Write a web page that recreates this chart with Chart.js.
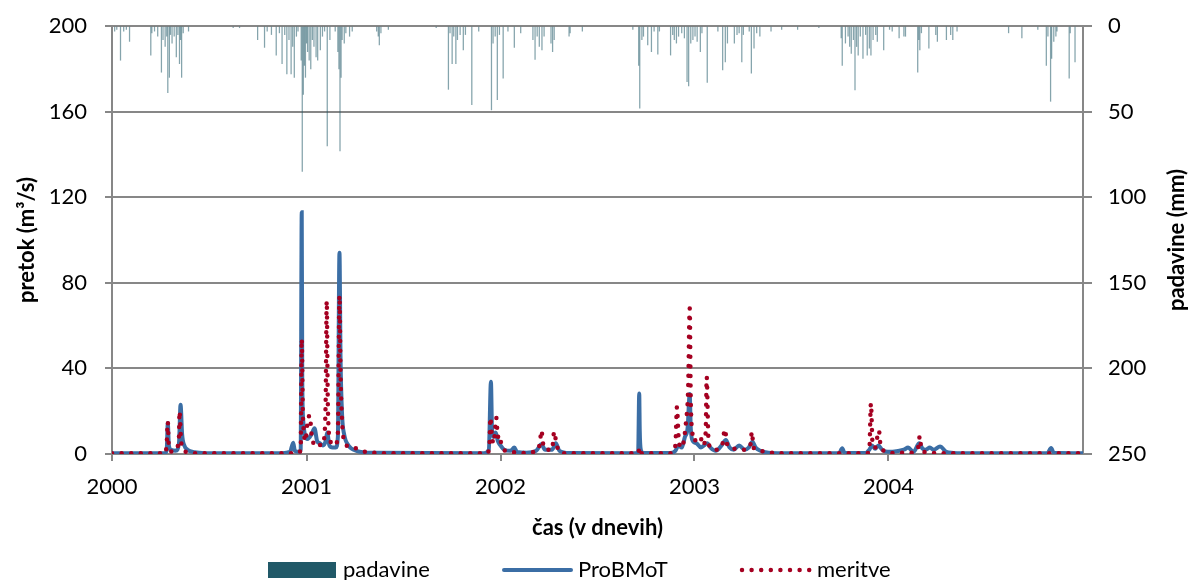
<!DOCTYPE html>
<html>
<head>
<meta charset="utf-8">
<script src="https://cdn.jsdelivr.net/npm/chart.js@4.4.1/dist/chart.umd.min.js"></script>
<style>
  html, body { margin: 0; padding: 0; background: #fff; }
  #wrap { width: 1189px; height: 580px; }
</style>
</head>
<body>
<div id="wrap"><canvas id="chart" width="1189" height="580"></canvas></div>
<script>
// x axis: days counted from 1 Jan 2000, one labelled tick per year
const yearTicks = [0, 366, 731, 1096, 1461];
const yearLabels = ['2000', '2001', '2002', '2003', '2004'];

// daily precipitation (mm), only the rainy days
const rainDay = [
  5, 9, 16, 22, 27, 33, 73, 75, 80, 86, 93, 96, 100, 103, 105, 108, 110, 113, 117, 121, 124, 127, 129, 131, 134, 144,
  228, 240, 274, 287, 292, 300, 309, 315, 320, 325, 329, 333, 337, 340, 343, 347, 350,
  356, 358, 360, 362, 364, 366, 368, 371, 374, 377, 380, 384, 387, 392, 396, 400, 405,
  410, 420, 425, 427, 429, 431, 433, 437, 440, 447, 452, 498, 501, 503, 506, 520, 610,
  633, 636, 640, 643, 647, 650, 655, 661, 665, 677, 690, 714, 717, 721, 725, 729,
  736, 745, 757, 769, 792, 796, 800, 804, 809, 813, 826, 829, 832, 860, 862, 885,
  980, 991, 993, 997, 1000, 1008, 1015, 1020, 1027, 1030, 1051, 1055, 1058, 1062,
  1066, 1072, 1077, 1082, 1085, 1089, 1093, 1097, 1101, 1107, 1110, 1120, 1140, 1149,
  1154, 1158, 1171, 1176, 1180, 1185, 1188, 1199, 1203, 1208, 1213, 1219, 1240, 1260,
  1290, 1330, 1372, 1374, 1380, 1385, 1388, 1391, 1395, 1398, 1401, 1404, 1408, 1413,
  1418, 1421, 1425, 1428, 1432, 1437, 1440, 1452, 1463, 1468, 1481, 1490, 1493, 1516,
  1518, 1520, 1523, 1537, 1550, 1553, 1570, 1578, 1582, 1590, 1687, 1712, 1742,
  1758, 1761, 1766, 1768, 1772, 1776, 1778, 1801, 1803, 1812
];
const rainMm = [
  3, 2, 20, 3, 2, 9, 17, 4, 3, 6, 27, 8, 12, 6, 39, 30, 5, 10, 6, 18, 5, 22, 8, 30, 4, 3,
  1, 1, 8, 12.5, 3, 5, 17, 4, 22, 5, 28, 8, 28, 12, 30, 6, 3,
  20, 85, 40, 23, 30, 10, 15, 20, 25, 8, 12, 18, 20, 14, 6, 3, 70,
  8, 3, 15, 25, 73, 30, 8, 10, 4, 6, 3, 3, 6, 11, 4, 2, 1,
  37, 4, 22, 6, 22, 8, 5, 14, 5, 46, 3, 49, 10, 6, 43, 5,
  30.5, 3, 12.5, 4, 8, 19.5, 6, 12, 14, 6, 10, 15, 8, 6, 4, 3,
  2, 23, 48, 8, 6, 11, 15, 3, 16.5, 3, 17, 5, 8, 10,
  6, 4, 7, 32.5, 35, 10, 8, 6, 9, 15, 4, 33, 3, 25.7,
  21, 10, 10, 5, 4, 21, 5, 3, 27.6, 13, 4, 6, 3, 2,
  2, 1, 7, 23, 10, 6, 12, 16, 8, 37.4, 12, 17, 6, 19,
  5, 17, 13, 17, 8, 5, 9, 14, 2, 3, 7, 6, 6, 27,
  8, 14, 4, 13, 5, 9, 8, 5, 8, 3, 4, 7, 2,
  23, 6, 44, 19, 9, 6, 3, 30.5, 4, 21
];

// modelled discharge (ProBMoT), m3/s
const simDay = [
  0, 100, 103, 105, 107, 111, 120, 126, 129, 132, 136, 142, 155, 175,
  320, 335, 341, 344, 352, 355, 357, 358, 360, 363, 368, 375, 381, 386, 391, 397, 402, 405, 409, 415, 421, 425, 428, 430, 433, 437, 445, 460, 490,
  700, 709, 713, 715, 718, 722, 726, 731, 738, 750, 757, 762, 780, 798, 808, 815, 828, 835, 842, 860,
  985, 990, 992, 993, 995, 1000,
  1050, 1060, 1066, 1072, 1078, 1083, 1087, 1089, 1093, 1100, 1108, 1114, 1120, 1126, 1136, 1147, 1155, 1162, 1170, 1180, 1190, 1198, 1205, 1211, 1220, 1235, 1260,
  1368, 1374, 1378, 1418, 1425, 1430, 1436, 1442, 1449, 1460, 1479, 1490, 1498, 1508, 1519, 1525, 1531, 1539, 1546, 1558, 1570, 1590,
  1760, 1767, 1772, 1827
];
const simFlow = [
  0.4, 0.4, 2, 14.5, 4, 2, 1.5, 5, 23, 9, 4, 2, 0.8, 0.4,
  0.4, 1, 5.3, 1.5, 1, 2, 113, 35, 15, 9, 7, 9, 12, 6, 5, 4, 6, 10, 4, 3, 3, 8, 94, 45, 18, 9, 4, 1.5, 0.6,
  0.4, 2, 33.8, 12, 8, 10, 6, 4, 2, 1.5, 3, 1, 0.6, 1.5, 4.5, 2, 2, 5, 1.5, 0.5,
  0.4, 1, 28.3, 11, 2, 0.5,
  0.5, 1.5, 4, 3, 8, 12, 28, 12, 6, 5, 3, 4, 5, 3, 1.5, 4, 6.5, 3, 2, 4, 2, 3, 5.7, 3, 1.5, 0.6, 0.4,
  0.4, 2.7, 0.6, 0.5, 2, 4, 2.5, 4, 2, 1, 1.4, 2, 3, 1, 5, 2.5, 2, 3, 2, 3.5, 1, 0.4,
  0.4, 2.8, 0.6, 0.4
];

// measured discharge (meritve), m3/s
const obsDay = [
  0, 100, 103, 105, 107, 115, 122, 126, 127, 130, 135, 145, 160,
  340, 350, 355, 357, 359, 361, 364, 368, 372, 376, 380, 386, 393, 398, 402, 404, 406, 409, 414, 420, 425, 428, 430, 433, 437, 450, 462, 477, 500, 520,
  705, 710, 712, 715, 718, 721, 723, 726, 729, 733, 740, 750, 770, 800, 805, 808, 811, 817, 828, 832, 836, 842, 860,
  990, 993, 996,
  1050, 1060, 1063, 1066, 1070, 1075, 1080, 1084, 1087, 1089, 1092, 1096, 1101, 1107, 1112, 1117, 1119, 1122, 1126, 1135, 1148, 1153, 1158, 1170, 1190, 1201, 1204, 1207, 1213, 1230, 1260,
  1420, 1425, 1428, 1431, 1436, 1440, 1443, 1446, 1452, 1465, 1500, 1516, 1520, 1523, 1535, 1560, 1827
];
const obsFlow = [
  0.3, 0.3, 5, 15, 3, 1, 3, 8, 20, 6, 2, 0.6, 0.3,
  0.3, 0.5, 2, 53.7, 20, 10, 6, 15, 18, 8, 5, 6, 4, 6, 25, 71.5, 25, 8, 5, 4, 10, 74, 38, 15, 6, 3, 2.5, 1, 0.5, 0.3,
  0.3, 3, 17, 8, 5, 12, 17, 8, 9, 4, 1.5, 1, 0.5, 1.5, 5, 11, 5, 2, 2, 10.5, 5, 1, 0.3,
  0.3, 3, 0.3,
  0.3, 4, 22, 8, 3, 5, 15, 30, 68, 25, 10, 6, 8, 8, 4, 10, 36, 8, 3, 2, 4, 11.5, 4, 2.5, 2, 4, 10.4, 3, 2, 1, 0.3,
  0.3, 2, 23.7, 5, 3, 8, 11, 4, 1.5, 0.5, 0.6, 2, 8.4, 2, 0.8, 0.3, 0.3
];

const pairs = (xs, ys) => xs.map((x, i) => ({ x: x, y: ys[i] }));

const FONT = 'Lato, "Open Sans", sans-serif';
const gridColor = '#878787';
const rainColor = '#215968';
const simColor = '#3b6ea5';
const obsColor = '#a50021';

// fixed axis boxes; drop the label overhang padding so the plot keeps its top edge
const fixWidth = w => scale => {
  scale.width = w;
  scale.paddingTop = 0;
  scale.paddingBottom = 0;
};

// legend along the bottom and the right axis title (reads bottom to top)
const extras = {
  id: 'extras',
  afterDraw(chart) {
    const ctx = chart.ctx;
    const area = chart.chartArea;
    ctx.save();
    ctx.fillStyle = '#000';
    ctx.font = 'bold 22px ' + FONT;
    ctx.textAlign = 'center';
    ctx.textBaseline = 'middle';
    ctx.translate(1177, (area.top + area.bottom) / 2);
    ctx.rotate(-Math.PI / 2);
    ctx.fillText('padavine (mm)', 0, 0);
    ctx.restore();

    const ly = 570;
    ctx.save();
    ctx.font = '22px ' + FONT;
    ctx.textAlign = 'left';
    ctx.textBaseline = 'middle';
    ctx.fillStyle = rainColor;
    ctx.fillRect(268, ly - 8, 68, 16);
    ctx.fillStyle = '#000';
    ctx.fillText('padavine', 343, ly);

    ctx.strokeStyle = simColor;
    ctx.lineWidth = 4;
    ctx.lineCap = 'round';
    ctx.beginPath();
    ctx.moveTo(504, ly);
    ctx.lineTo(571, ly);
    ctx.stroke();
    ctx.fillText('ProBMoT', 578, ly);

    ctx.strokeStyle = obsColor;
    ctx.lineWidth = 4.5;
    ctx.setLineDash([0, 9.6]);
    ctx.beginPath();
    ctx.moveTo(742, ly);
    ctx.lineTo(810, ly);
    ctx.stroke();
    ctx.setLineDash([]);
    ctx.fillText('meritve', 817, ly);
    ctx.restore();
  }
};

new Chart(document.getElementById('chart').getContext('2d'), {
  type: 'bar',
  data: {
    datasets: [
      {
        type: 'line',
        label: 'meritve',
        data: pairs(obsDay, obsFlow),
        yAxisID: 'y',
        borderColor: obsColor,
        borderWidth: 4.5,
        borderDash: [0, 9.6],
        borderCapStyle: 'round',
        pointRadius: 0,
        cubicInterpolationMode: 'monotone',
        order: 0
      },
      {
        type: 'line',
        label: 'ProBMoT',
        data: pairs(simDay, simFlow),
        yAxisID: 'y',
        borderColor: simColor,
        borderWidth: 4,
        pointRadius: 0,
        cubicInterpolationMode: 'monotone',
        order: 1
      },
      {
        type: 'bar',
        label: 'padavine',
        data: pairs(rainDay, rainMm),
        yAxisID: 'y2',
        backgroundColor: 'rgba(33, 89, 104, 0.55)',
        barThickness: 0.6,
        grouped: false,
        order: 2
      }
    ]
  },
  options: {
    responsive: false,
    animation: false,
    devicePixelRatio: 1,
    layout: { padding: { top: 26, bottom: 30, left: 0, right: 0 } },
    plugins: {
      legend: { display: false },
      tooltip: { enabled: false }
    },
    scales: {
      x: {
        type: 'linear',
        min: 0,
        max: 1827,
        offset: false,
        afterBuildTicks: scale => { scale.ticks = yearTicks.map(v => ({ value: v })); },
        afterFit: scale => { scale.height = 96; },
        ticks: {
          autoSkip: false,
          maxRotation: 0,
          padding: 13,
          color: '#000',
          font: { family: FONT, size: 22 },
          callback: (value, index) => yearLabels[index]
        },
        grid: { drawOnChartArea: false, offset: false, tickLength: 7, color: gridColor, lineWidth: 2 },
        border: { color: gridColor, width: 2 },
        title: {
          display: true,
          text: 'čas (v dnevih)',
          color: '#000',
          font: { family: FONT, size: 22, weight: 'bold' },
          padding: { top: 0, bottom: 9 }
        }
      },
      y: {
        position: 'left',
        min: 0,
        max: 200,
        afterFit: fixWidth(112),
        ticks: {
          stepSize: 40,
          padding: 18,
          color: '#000',
          font: { family: FONT, size: 22 }
        },
        grid: { tickLength: 7, color: gridColor, lineWidth: 2 },
        border: { color: gridColor, width: 2 },
        title: {
          display: true,
          text: 'pretok (m³/s)',
          color: '#000',
          font: { family: FONT, size: 22, weight: 'bold' },
          padding: { top: 14, bottom: 0 }
        }
      },
      y2: {
        position: 'right',
        min: 0,
        max: 250,
        reverse: true,
        afterFit: fixWidth(106),
        ticks: {
          stepSize: 50,
          padding: 16,
          color: '#000',
          font: { family: FONT, size: 22 }
        },
        grid: { drawOnChartArea: false, tickLength: 9, color: gridColor, lineWidth: 2 },
        border: { color: gridColor, width: 2 }
      }
    }
  },
  plugins: [extras]
});
</script>
</body>
</html>
